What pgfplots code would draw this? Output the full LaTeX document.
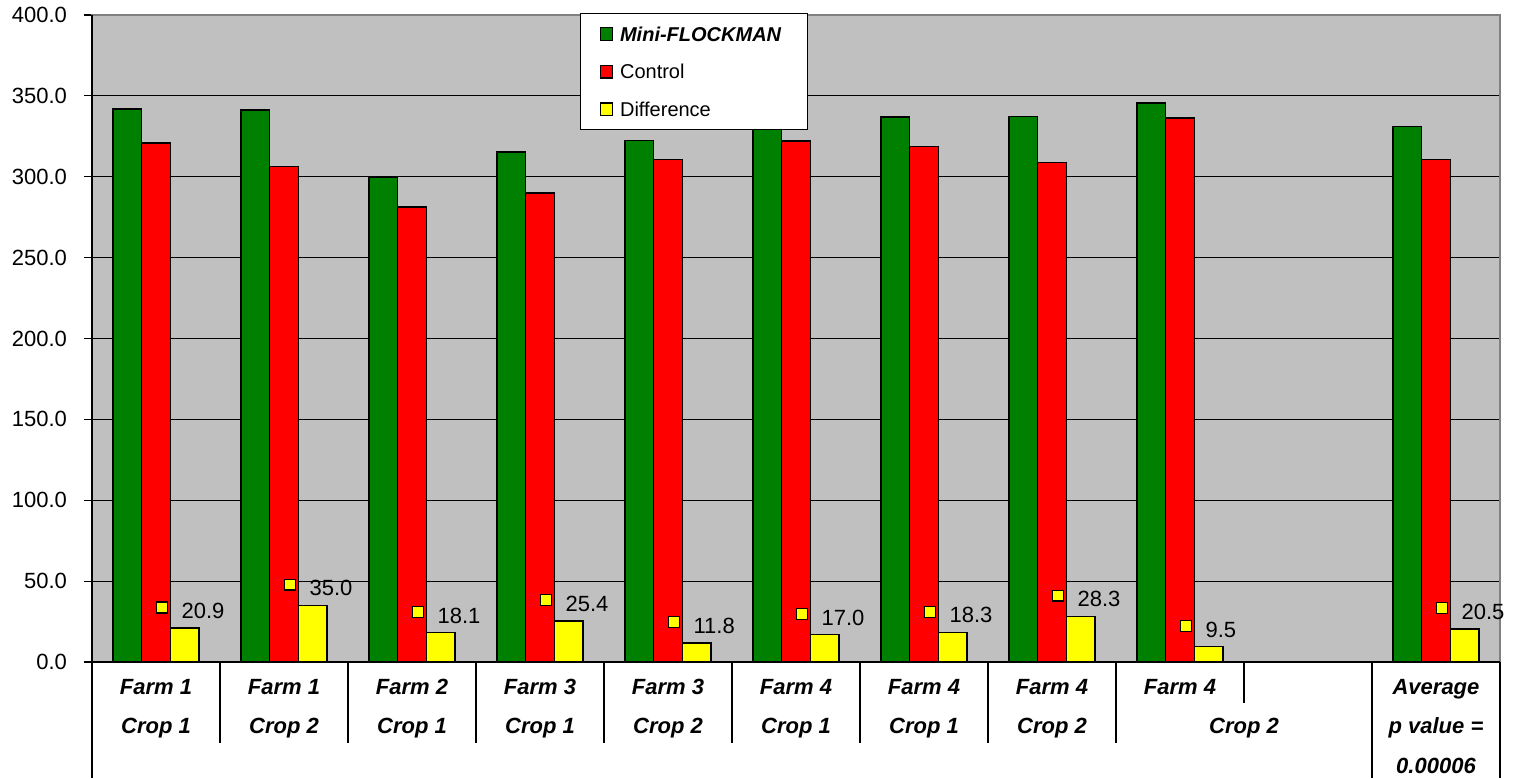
\documentclass[border=0pt]{standalone}
\usepackage{fontspec}
\setmainfont{Liberation Sans}
\usepackage{pgfplots}
\pgfplotsset{compat=1.18}
\pgfplotsset{/pgf/number format/assume math mode=true}
\definecolor{xgreen}{HTML}{008000}
\definecolor{xred}{HTML}{FF0000}
\definecolor{xyellow}{HTML}{FFFF00}
\definecolor{xgray}{HTML}{C0C0C0}
\newcommand{\lblmark}{\llap{\raisebox{3.2pt}{\setlength\fboxsep{0pt}\setlength\fboxrule{0.6pt}\fcolorbox{black}{xyellow}{\rule{0pt}{4.8pt}\rule{4.8pt}{0pt}}}\hspace{6.85pt}}}
\pgfplotsset{lg/.style={legend image code/.code={\draw[##1, line width=0.6pt] (0pt,-3.15pt) rectangle (6.3pt,3.15pt);}}}
\begin{document}
\begin{tikzpicture}
\path[use as bounding box] (-46pt,-58pt) rectangle (712pt,331pt);
\begin{axis}[
  at={(0,0)}, anchor=south west,
  width=704pt, height=323.5pt, scale only axis,
  xmin=-0.5, xmax=10.5, ymin=0, ymax=400,
  clip=false,
  axis background/.style={fill=xgray},
  axis line style={draw=gray, line width=0.8pt},
  ybar=0pt, bar width=14.35pt,
  ytick={0,50,...,400},
  ymajorgrids, major grid style={black, line width=0.6pt},
  tick align=outside, major tick length=4pt,
  ytick pos=left,
  y tick style={black, line width=0.6pt},
  y tick label style={/pgf/number format/.cd, fixed, fixed zerofill, precision=1, /tikz/.cd, font=\fontsize{11}{13}\selectfont, anchor=east, xshift=-5pt},
  xtick={0,...,10},
  xticklabels={{Farm 1\\Crop 1},{Farm 1\\Crop 2},{Farm 2\\Crop 1},{Farm 3\\Crop 1},{Farm 3\\Crop 2},{Farm 4\\Crop 1},{Farm 4\\Crop 1},{Farm 4\\Crop 2},{Farm 4},{},{Average\\p value =\\0.00006}},
  x tick label style={align=center, anchor=north, font=\bfseries\itshape\fontsize{11}{19.8}\selectfont, yshift=-0.9pt},
  x tick style={draw=none},
  extra x ticks={8.5}, extra x tick labels={{\phantom{Farm 4}\\Crop 2}},
  extra x tick style={grid=none},
  legend style={at={(axis description cs:0.3466,1.003)}, anchor=north west, draw=black, line width=0.6pt, fill=white, inner xsep=9.5pt, inner ysep=2.5pt, row sep=3.3pt, font=\fontsize{10}{12}\selectfont, nodes={inner xsep=3.33pt, inner ysep=3pt, text height=8.3pt, text depth=1.2pt}},
  legend cell align=left,
]
\addplot[lg, fill=xgreen, draw=black, line width=0.7pt] coordinates {(0,341.8) (1,341.2) (2,299.4) (3,315.3) (4,322.3) (5,339.2) (6,337.0) (7,337.2) (8,345.7) (10,331.0)};
\addplot[lg, fill=xred, draw=black, line width=0.7pt] coordinates {(0,320.9) (1,306.2) (2,281.3) (3,289.9) (4,310.5) (5,322.2) (6,318.7) (7,308.9) (8,336.2) (10,310.5)};
\addplot[lg, fill=xyellow, draw=black, line width=0.7pt,
  nodes near coords={\lblmark\pgfmathprintnumber[fixed,fixed zerofill,precision=1]{\pgfplotspointmeta}},
  every node near coord/.append style={anchor=base west, inner sep=0pt, xshift=-1.9pt, yshift=4.75pt, font=\fontsize{11}{13}\selectfont, text=black}]
  coordinates {(0,20.9) (1,35.0) (2,18.1) (3,25.4) (4,11.8) (5,17.0) (6,18.3) (7,28.3) (8,9.5) (10,20.5)};
\legend{\textbf{\textit{Mini-FLOCKMAN}},Control,Difference}
\draw[black,line width=0.8pt] (rel axis cs:0,0) -- (rel axis cs:0,1);
\draw[black,line width=1pt] (rel axis cs:0,0) -- (rel axis cs:1,0);
\draw[black,line width=0.9pt] (axis cs:-0.5,0) -- ++(0pt,-58pt);
\draw[black,line width=0.9pt] (axis cs:0.5,0) -- ++(0pt,-40.5pt);
\draw[black,line width=0.9pt] (axis cs:1.5,0) -- ++(0pt,-40.5pt);
\draw[black,line width=0.9pt] (axis cs:2.5,0) -- ++(0pt,-40.5pt);
\draw[black,line width=0.9pt] (axis cs:3.5,0) -- ++(0pt,-40.5pt);
\draw[black,line width=0.9pt] (axis cs:4.5,0) -- ++(0pt,-40.5pt);
\draw[black,line width=0.9pt] (axis cs:5.5,0) -- ++(0pt,-40.5pt);
\draw[black,line width=0.9pt] (axis cs:6.5,0) -- ++(0pt,-40.5pt);
\draw[black,line width=0.9pt] (axis cs:7.5,0) -- ++(0pt,-40.5pt);
\draw[black,line width=0.9pt] (axis cs:8.5,0) -- ++(0pt,-20.5pt);
\draw[black,line width=0.9pt] (axis cs:9.5,0) -- ++(0pt,-58pt);
\draw[black,line width=0.9pt] (axis cs:10.5,0) -- ++(0pt,-58pt);
\end{axis}
\end{tikzpicture}
\end{document}
